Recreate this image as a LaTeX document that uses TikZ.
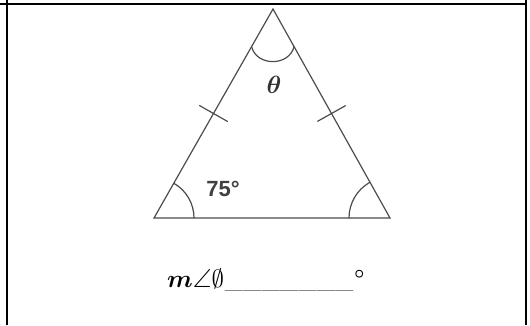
\documentclass[tikz,border=0pt]{standalone}
\usepackage{amsmath,amssymb,bm}
\usepackage{fontspec}
\newfontfamily\labelfont{Liberation Sans}
\usetikzlibrary{calc}

\tikzset{
  rahmen/.style={line width=1.3pt},
  figur/.style={black!70, line width=1.2pt},
}

\begin{document}
\begin{tikzpicture}[x=1pt, y=1pt, line cap=round]
\useasboundingbox (0,0) rectangle (530,325);

            % Tabellenrahmen
            \draw[rahmen, line cap=butt] (0,321) -- (526,321);
            \draw[rahmen, line cap=butt] (7,0) -- (7,325);
            \draw[rahmen, line cap=butt] (526,0) -- (526,325);

            % Ecken des Dreiecks
            \coordinate (A) at (273,316);
            \coordinate (B) at (154,107);
            \coordinate (C) at (390,107);

            % Dreieck
            \draw[figur] (A) -- (B) -- (C) -- cycle;

            % Winkelbogen an der Spitze
            \coordinate (a1) at ($(A)!0.18!(B)$);
            \coordinate (a2) at ($(A)!0.18!(C)$);
            \draw[figur] (a1) .. controls ($(a1)+(5,-20)$) and ($(a2)+(-5,-20)$) .. (a2);

            % Basiswinkel
            \draw[figur] (B) ++(40,0) arc[start angle=0, end angle=60.3, radius=40];
            \draw[figur] (C) ++(-41,0) arc[start angle=180, end angle=119.7, radius=41];

            % Markierungen gleich langer Seiten
            \coordinate (mAB) at ($(A)!0.5!(B)$);
            \coordinate (mAC) at ($(A)!0.5!(C)$);
            \draw[figur] ($(mAB)!16pt!90:(B)$) -- ($(mAB)!16pt!-90:(B)$);
            \draw[figur] ($(mAC)!16pt!90:(C)$) -- ($(mAC)!16pt!-90:(C)$);

            % Beschriftungen
            \node[black!80] (theta) at (274,240) {\fontsize{23}{25}\selectfont$\bm{\theta}$};
            \node[black!75] (winkel) at (223,136) {\labelfont\bfseries\fontsize{22}{24}\selectfont 75°};

            % Aufgabe unten
            \node (aufgabe) at (266,45) {\fontsize{26}{30}\selectfont
              $\bm{m}\angle\emptyset$\kern1pt\_\kern.4pt\_\kern.4pt\_\kern.4pt\_\kern.4pt\_\kern.4pt\_\kern.4pt\_\kern1pt$^{\bm{\circ}}$};

\end{tikzpicture}
\end{document}
